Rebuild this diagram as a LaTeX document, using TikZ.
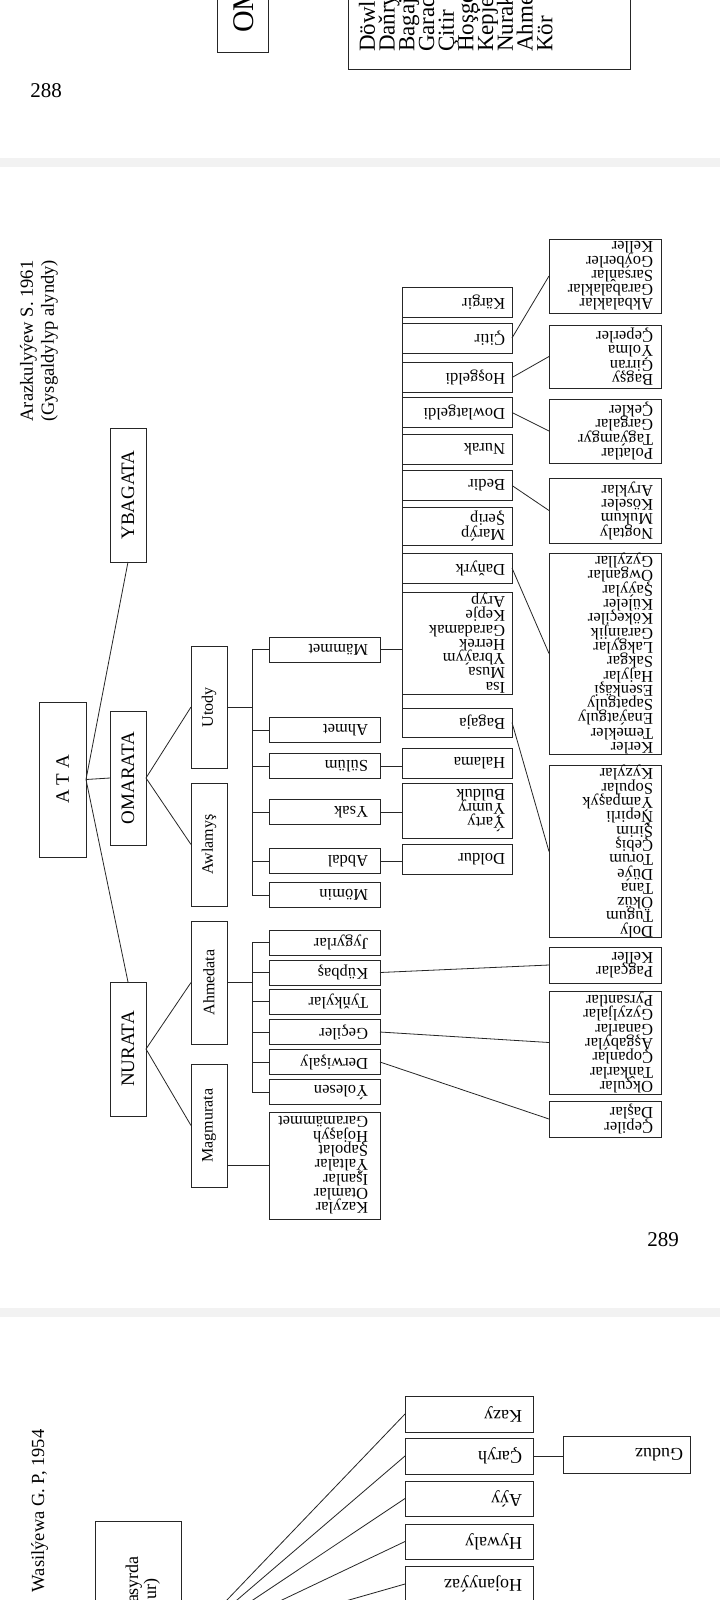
\documentclass[tikz,border=0pt]{standalone}
\usepackage{fontspec}
\setmainfont{Liberation Serif}
\usepackage{graphicx}
\newcommand\myleaf{\fontsize{16.5}{14.3}\selectfont}
\newcommand\myleafb{\fontsize{18}{15}\selectfont}
\newcommand\Lbox[2]{\vbox{\baselineskip=#1\lineskiplimit=-1000pt\lineskip=0pt\let\\\cr\halign{##\hfil\cr#2\crcr}}}
\newcommand\Lup[1]{\rotatebox{90}{#1}}
\newcommand\Ldn[1]{\hbox to\hsize{\hss\rotatebox{180}{\Lbox{14.3pt}{#1}}}}
\tikzset{
 bx/.style={draw=black!85, line width=0.9pt, inner sep=0pt, outer sep=0pt, text=black},
 ln/.style={draw=black!85, line width=0.8pt},
 topbox/.style={bx, minimum width=36pt, minimum height=134pt, font=\fontsize{19}{22}\selectfont},
 midbox/.style={bx, minimum width=36pt, minimum height=123pt, font=\fontsize{16}{19}\selectfont},
 colA/.style={bx, minimum width=111pt, text width=87pt, align=right, font=\myleaf, minimum height=25pt},
 colB/.style={bx, minimum width=110pt, text width=96pt, align=right, font=\myleaf, minimum height=30pt},
 colC/.style={bx, minimum width=112pt, text width=96pt, align=right, font=\myleaf},
 colD/.style={bx, minimum width=128pt, text width=106pt, align=right, font=\myleafb, minimum height=36pt},
 plain/.style={inner sep=0pt, outer sep=0pt, text=black},
}
\begin{document}
\begin{tikzpicture}[x=1pt,y=-1pt]
\useasboundingbox (0,0) rectangle (720,1600);
\clip (0,0) rectangle (720,1600);
\fill[white] (0,0) rectangle (720,1600);
\fill[black!5] (0,158) rectangle (720,167);
\fill[black!5] (0,1308) rectangle (720,1317);

% ---------- page 288 (bottom part) ----------
\node[bx, minimum width=51pt, minimum height=62pt] (om) at (242.5,21) {};
\node[plain, rotate=90, anchor=base west, font=\fontsize{30}{30}\selectfont] (omt) at (253,33) {OM};
\node[bx, minimum width=282pt, minimum height=79pt] (box288) at (489,29.5) {};
\node[plain, rotate=90, anchor=north west, font=\fontsize{23}{20}\selectfont] (list288) at (359,52)
 {\Lbox{19.7pt}{Döwle\\Daňry\\Bagaj\\Garad\\Çitir\\Hoşge\\Kepje\\Nurak\\Ahme\\Kör}};
\node[plain, font=\fontsize{21}{21}\selectfont] (p288) at (46,91) {288};

% ---------- page 289 ----------
\node[plain, rotate=90, align=center, font=\fontsize{18.5}{21}\selectfont] (src1) at (39,341)
 {Arazkulyýew S. 1961\\(Gysgaldylyp alyndy)};

\node[bx, minimum width=47pt, minimum height=155pt, font=\fontsize{19}{22}\selectfont] (ata) at (62.5,779.5) {\Lup{A T A}};
\node[topbox] (ybagata) at (128,495) {\Lup{YBAGATA}};
\node[topbox] (omarata) at (128,778) {\Lup{OMARATA}};
\node[topbox] (nurata) at (128,1049) {\Lup{NURATA}};
\draw[ln] (ata.east) -- (ybagata.south);
\draw[ln] (ata.east) -- (omarata.west);
\draw[ln] (ata.east) -- (nurata.north);

\node[midbox, minimum height=122pt] (utody) at (209,707) {\Lup{Utody}};
\node[midbox] (awlamys) at (209,844.5) {\Lup{Awlamyş}};
\node[midbox] (ahmedata) at (209,982.5) {\Lup{Ahmedata}};
\node[midbox] (magmurata) at (209,1125.5) {\Lup{Magmurata}};
\draw[ln] (omarata.east) -- (utody.west);
\draw[ln] (omarata.east) -- (awlamys.west);
\draw[ln] (nurata.east) -- (ahmedata.west);
\draw[ln] (nurata.east) -- (magmurata.west);

% column A
\node[colA] (mammet) at (324.5,649.5) {\Ldn{Mämmet}};
\node[colA] (ahmet) at (324.5,730) {\Ldn{Ahmet}};
\node[colA] (sulum) at (324.5,766) {\Ldn{Sülüm}};
\node[colA] (ysak) at (324.5,812) {\Ldn{Ysak}};
\node[colA] (abdal) at (324.5,861) {\Ldn{Abdal}};
\node[colA] (momin) at (324.5,895) {\Ldn{Mömin}};
\node[colA] (jygyrlar) at (324.5,942.5) {\Ldn{Jygyrlar}};
\node[colA] (kupbas) at (324.5,972.5) {\Ldn{Küpbaş}};
\node[colA] (tynkylar) at (324.5,1001.5) {\Ldn{Tyňkylar}};
\node[colA] (geciler) at (324.5,1032) {\Ldn{Geçiler}};
\node[colA] (derwisaly) at (324.5,1062) {\Ldn{Derwişaly}};
\node[colA] (yolesen) at (324.5,1092) {\Ldn{Ýolesen}};
\node[colA, minimum height=107pt] (kazylar) at (324.5,1165.5)
 {\Ldn{Kazylar\\Otamlar\\Işanlar\\Ýaltalar\\Şapolat\\Hojaşyh\\Garamämmet}};

\coordinate (ub) at (252,707);
\draw[ln] (utody.east) -- (ub);
\draw[ln] (mammet.west -| ub) -- (momin.west -| ub);
\foreach \n in {mammet,ahmet,sulum,ysak,abdal,momin}
  \draw[ln] (\n.west -| ub) -- (\n.west);
\coordinate (ab) at (252,982.5);
\draw[ln] (ahmedata.east) -- (ab);
\draw[ln] (jygyrlar.west -| ab) -- (yolesen.west -| ab);
\foreach \n in {jygyrlar,kupbas,tynkylar,geciler,derwisaly,yolesen}
  \draw[ln] (\n.west -| ab) -- (\n.west);
\draw[ln] (magmurata.east |- kazylar.west) -- (kazylar.west);

% column B
\node[colB] (kargir) at (457,302) {\Ldn{Kärgir}};
\node[colB] (citir) at (457,338) {\Ldn{Çitir}};
\node[colB] (hosgeldi) at (457,377.5) {\Ldn{Hoşgeldi}};
\node[colB] (dowlatgeldi) at (457,412.5) {\Ldn{Dowlatgeldi}};
\node[colB] (nurak) at (457,449.5) {\Ldn{Nurak}};
\node[colB] (bedir) at (457,485.5) {\Ldn{Bedir}};
\node[colB, minimum height=38pt] (maryp) at (457,526) {\Ldn{Marýp\\Şerip}};
\node[colB] (danyrk) at (457,568) {\Ldn{Daňyrk}};
\node[colB, minimum height=102pt] (isa) at (457,643)
 {\Ldn{Isa\\Musa\\Ybraýym\\Herrek\\Garadamak\\Kepje\\Aryp}};
\node[colB, minimum height=29pt] (bagaja) at (457,722.5) {\Ldn{Bagaja}};
\node[colB] (halama) at (457,763) {\Ldn{Halama}};
\node[colB, minimum height=55pt] (yarty) at (457,810.5) {\Ldn{Ýarty\\Ýumry\\Bulduk}};
\node[colB] (doldur) at (457,859) {\Ldn{Doldur}};

\draw[ln] (mammet.east) -- (mammet.east -| kargir.west);
\draw[ln] (kargir.west) -- (bagaja.west);
\draw[ln] (sulum.east) -- (sulum.east -| halama.west);
\draw[ln] (ysak.east) -- (ysak.east -| yarty.west);
\draw[ln] (abdal.east) -- (abdal.east -| doldur.west);

% column C
\node[colC, minimum height=74pt] (akbal) at (605,276)
 {\Ldn{Akbalaklar\\Garabalaklar\\Sarsaňlar\\Goýberler\\Keller}};
\node[colC, minimum height=63pt] (bagsy) at (605,356.5)
 {\Ldn{Bagşy\\Girran\\Ýolma\\Çeperler}};
\node[colC, minimum height=64pt] (polat) at (605,431)
 {\Ldn{Polatlar\\Tagýamgyr\\Gargalar\\Çekler}};
\node[colC, minimum height=65pt] (nogtaly) at (605,510.5)
 {\Ldn{Nogtaly\\Mukum\\Köseler\\Aryklar}};
\node[colC, minimum height=201pt] (kerler) at (605,653.5)
 {\Ldn{Kerler\\Temekler\\Enaýatguly\\Sapatguly\\Esenkäşi\\Hajylar\\Sakgar\\Lakgylar\\Garainjik\\Kökeçiler\\Küleler\\Şaýylar\\Owganlar\\Gyzyllar}};
\node[colC, minimum height=171pt] (doly) at (605,851.5)
 {\Ldn{Doly\\Tugum\\Öküz\\Tana\\Düýe\\Torum\\Çebiş\\Şirim\\Ňepirli\\Ýampaşyk\\Sopular\\Kyzylar}};
\node[colC, minimum height=36pt] (pagcalar) at (605,965) {\Ldn{Pagçalar\\Keller}};
\node[colC, minimum height=103pt] (okcular) at (605,1042.5)
 {\Ldn{Okçular\\Taňkarlar\\Çopanlar\\Aşgabýlar\\Ganarlar\\Gyzyljalar\\Pyrsantlar}};
\node[colC, minimum height=36pt] (cepiler) at (605,1119) {\Ldn{Çepiler\\Daşlar}};

\draw[ln] (citir.east) -- (akbal.west);
\draw[ln] (hosgeldi.east) -- (bagsy.west);
\draw[ln] (dowlatgeldi.east) -- (polat.west);
\draw[ln] (bedir.east) -- (nogtaly.west);
\draw[ln] (danyrk.east) -- (kerler.west);
\draw[ln] (bagaja.east) -- (doly.west);
\draw[ln] (kupbas.east) -- (pagcalar.west);
\draw[ln] (geciler.east) -- (okcular.west);
\draw[ln] (derwisaly.east) -- (cepiler.west);

\node[plain, font=\fontsize{21}{21}\selectfont] (p289) at (663,1240) {289};

% ---------- page 290 (top part) ----------
\node[plain, rotate=90, anchor=base west, font=\fontsize{18.5}{18.5}\selectfont] (src2) at (44,1592) {Wasilýewa G. P, 1954};
\node[bx, minimum width=86pt, minimum height=254pt] (wroot) at (138,1648) {};
\node[plain, rotate=90, anchor=base east, font=\fontsize{18}{18}\selectfont] (w1) at (138,1556) {asyrda};
\node[plain, rotate=90, anchor=base east, font=\fontsize{18}{18}\selectfont] (w2) at (156,1578) {ur)};

\node[colD] (kazy) at (469,1414) {\Ldn{Kazy}};
\node[colD] (caryh) at (469,1456) {\Ldn{Çaryh}};
\node[colD, minimum height=35pt] (ayy) at (469,1498.5) {\Ldn{Aýy}};
\node[colD, minimum height=35pt] (hywaly) at (469,1541.5) {\Ldn{Hywaly}};
\node[colD] (hojanyyaz) at (469,1584) {\Ldn{Hojanyýaz}};
\node[bx, minimum width=127pt, text width=113pt, align=right, font=\myleafb, minimum height=37pt] (guduz) at (626.5,1454.5) {\Ldn{Guduz}};

\draw[ln] (caryh.east) -- (caryh.east -| guduz.west);
\foreach \n in {kazy,caryh,ayy,hywaly,hojanyyaz}
  \draw[ln] (wroot.east) -- (\n.west);
\end{tikzpicture}
\end{document}
